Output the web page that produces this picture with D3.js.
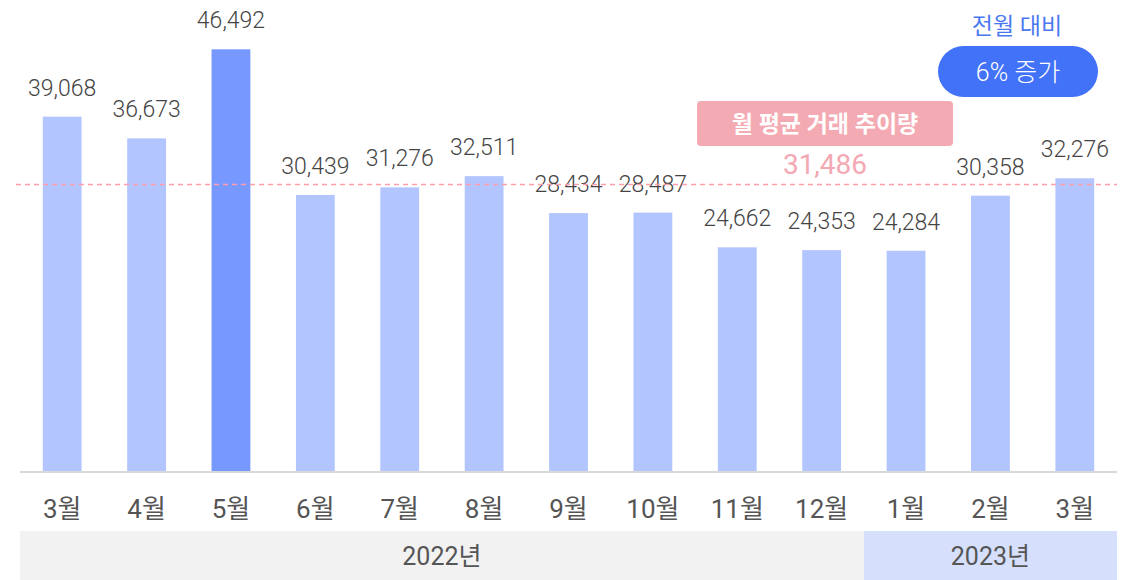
<!DOCTYPE html>
<html lang="ko">
<head>
<meta charset="utf-8">
<script src="https://d3js.org/d3.v7.min.js"></script>
<style>
  body { margin: 0; background: #fff; }
  text { font-family: Roboto, "Noto Sans CJK KR", sans-serif; }
</style>
</head>
<body>
<script>
// monthly volume data
var months = ["3월","4월","5월","6월","7월","8월","9월","10월","11월","12월","1월","2월","3월"];
var values = [39068, 36673, 46492, 30439, 31276, 32511, 28434, 28487, 24662, 24353, 24284, 30358, 32276];
var highlight = 2; // 5월
var average = 31486;
var years = ["2022년", "2023년"];
var yearSpan = [[0, 9], [10, 12]];

var w = 1132, h = 580;
var baseY = 471;

var svg = d3.select("body").append("svg")
    .attr("width", w)
    .attr("height", h);

var x = d3.scaleBand()
    .domain(d3.range(months.length))
    .range([20, 1117])
    .paddingInner(0.54)
    .paddingOuter(0.27);

var y = d3.scaleLinear()
    .domain([0, 51930])
    .range([baseY, 0]);

// bars
svg.selectAll("rect.bar")
    .data(values)
    .enter()
    .append("rect")
    .attr("class", "bar")
    .attr("x", function(d, i) { return x(i); })
    .attr("y", function(d) { return y(d); })
    .attr("width", x.bandwidth())
    .attr("height", function(d) { return baseY - y(d); })
    .attr("fill", function(d, i) { return i == highlight ? "#7799ff" : "#b3c5ff"; });

// value labels
svg.selectAll("text.val")
    .data(values)
    .enter()
    .append("text")
    .attr("class", "val")
    .attr("x", function(d, i) { return x(i) + x.bandwidth() / 2; })
    .attr("y", function(d) { return y(d) - 21; })
    .attr("text-anchor", "middle")
    .attr("font-size", 23)
    .attr("font-weight", 300)
    .attr("fill", "#444")
    .text(function(d) { return d3.format(",")(d); });

// average line
svg.append("line")
    .attr("x1", 16).attr("x2", 1117)
    .attr("y1", y(average) - 1).attr("y2", y(average) - 1)
    .attr("stroke", "#ff9eaa")
    .attr("stroke-width", 1.5)
    .attr("stroke-dasharray", "5,4");

// baseline
svg.append("line")
    .attr("x1", 20).attr("x2", 1117)
    .attr("y1", baseY + 1).attr("y2", baseY + 1)
    .attr("stroke", "#d9d9d9")
    .attr("stroke-width", 2);

// month labels
svg.selectAll("text.month")
    .data(months)
    .enter()
    .append("text")
    .attr("class", "month")
    .attr("x", function(d, i) { return x(i) + x.bandwidth() / 2; })
    .attr("y", 518)
    .attr("text-anchor", "middle")
    .attr("font-size", 26)
    .attr("fill", "#555")
    .text(function(d) { return d; });

// year band
var step = x.step();
yearSpan.forEach(function(s, k) {
    var x0 = k == 0 ? 20 : x(s[0]) + x.bandwidth() / 2 - step / 2;
    var x1 = k == yearSpan.length - 1 ? 1117 : x(s[1]) + x.bandwidth() / 2 + step / 2;
    svg.append("rect")
        .attr("x", x0).attr("y", 531)
        .attr("width", x1 - x0).attr("height", 49)
        .attr("fill", k == 0 ? "#f2f2f2" : "#d6e0fc");
    svg.append("text")
        .attr("x", (x0 + x1) / 2)
        .attr("y", 565)
        .attr("text-anchor", "middle")
        .attr("font-size", 25)
        .attr("fill", "#555")
        .text(years[k]);
});

// average annotation
svg.append("rect")
    .attr("x", 697).attr("y", 101)
    .attr("width", 256).attr("height", 45)
    .attr("rx", 4)
    .attr("fill", "#f4aab3");
svg.append("text")
    .attr("x", 825).attr("y", 132)
    .attr("text-anchor", "middle")
    .attr("font-size", 23)
    .attr("font-weight", "bold")
    .attr("fill", "#fff")
    .text("월 평균 거래 추이량");
svg.append("text")
    .attr("x", 825).attr("y", 174)
    .attr("text-anchor", "middle")
    .attr("font-size", 28)
    .attr("fill", "#f4a8b2")
    .text(d3.format(",")(average));

// month-over-month badge
svg.append("text")
    .attr("x", 1017).attr("y", 34)
    .attr("text-anchor", "middle")
    .attr("font-size", 23)
    .attr("fill", "#4a78f0")
    .text("전월 대비");
svg.append("rect")
    .attr("x", 938).attr("y", 46)
    .attr("width", 160).attr("height", 51)
    .attr("rx", 25.5)
    .attr("fill", "#4272f7");
svg.append("text")
    .attr("x", 1018).attr("y", 81)
    .attr("text-anchor", "middle")
    .attr("font-size", 25)
    .attr("font-weight", 300)
    .attr("fill", "#fff")
    .text("6% 증가");
</script>
</body>
</html>
